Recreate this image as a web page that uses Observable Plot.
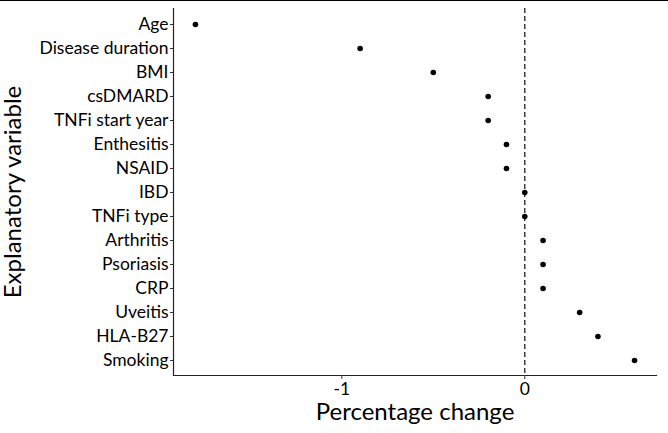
<!DOCTYPE html>
<html>
<head>
<meta charset="utf-8">
<script src="https://cdn.jsdelivr.net/npm/d3@7"></script>
<script src="https://cdn.jsdelivr.net/npm/@observablehq/plot@0.6"></script>
<style>
  html, body { margin: 0; padding: 0; background: #fff; }
  #wrap { position: relative; width: 668px; height: 433px; }
  #topline { position: absolute; left: 0; top: 0; width: 668px; height: 1px; background: #000; z-index: 2; }
</style>
</head>
<body>
<div id="wrap"><div id="topline"></div></div>
<script>
const variables = ["Age", "Disease duration", "BMI", "csDMARD", "TNFi start year", "Enthesitis", "NSAID", "IBD", "TNFi type", "Arthritis", "Psoriasis", "CRP", "Uveitis", "HLA-B27", "Smoking"];
const changes = [-1.8, -0.9, -0.5, -0.2, -0.2, -0.1, -0.1, 0, 0, 0.1, 0.1, 0.1, 0.3, 0.4, 0.6];
const xTicks = [-1, 0];
const xTitle = "Percentage change";
const yTitle = "Explanatory variable";

const data = variables.map((v, i) => ({variable: v, change: changes[i]}));
const lo = d3.min(changes), hi = d3.max(changes);
const pad = (hi - lo) * 0.05;
const font = "Lato, 'Open Sans', sans-serif";

const chart = Plot.plot({
  width: 668,
  height: 433,
  marginLeft: 173,
  marginRight: 12,
  marginTop: 8,
  marginBottom: 58,
  style: {fontFamily: font, background: "transparent", color: "#000"},
  x: {domain: [lo - pad, hi + pad]},
  y: {type: "point", domain: variables, padding: 0.6},
  marks: [
    Plot.ruleX([0], {stroke: "#333", strokeWidth: 1.4, strokeDasharray: "5,3"}),
    Plot.frame({anchor: "left", stroke: "#222", strokeWidth: 1.2}),
    Plot.frame({anchor: "bottom", stroke: "#222", strokeWidth: 1.2}),
    Plot.axisY({tickSize: 3, tickPadding: 2, fontSize: 17.5, stroke: "#333", fill: "#000", label: null}),
    Plot.axisX({ticks: xTicks, tickSize: 4, tickPadding: 3, fontSize: 17.5, stroke: "#333", fill: "#000", label: null, tickFormat: d => d3.format("d")(d).replace("−", "-")}),
    Plot.dot(data, {x: "change", y: "variable", r: 2.8, fill: "#000", stroke: null}),
    Plot.text([xTitle], {frameAnchor: "bottom", lineAnchor: "middle", textAnchor: "middle", dy: 37, fontSize: 24, fill: "#000"}),
    Plot.text([yTitle], {frameAnchor: "left", lineAnchor: "middle", textAnchor: "middle", dx: -160, rotate: -90, fontSize: 24, fill: "#000"})
  ]
});
document.getElementById("wrap").appendChild(chart);
chart.style.position = "absolute";
chart.style.left = "0";
chart.style.top = "0";
</script>
</body>
</html>
